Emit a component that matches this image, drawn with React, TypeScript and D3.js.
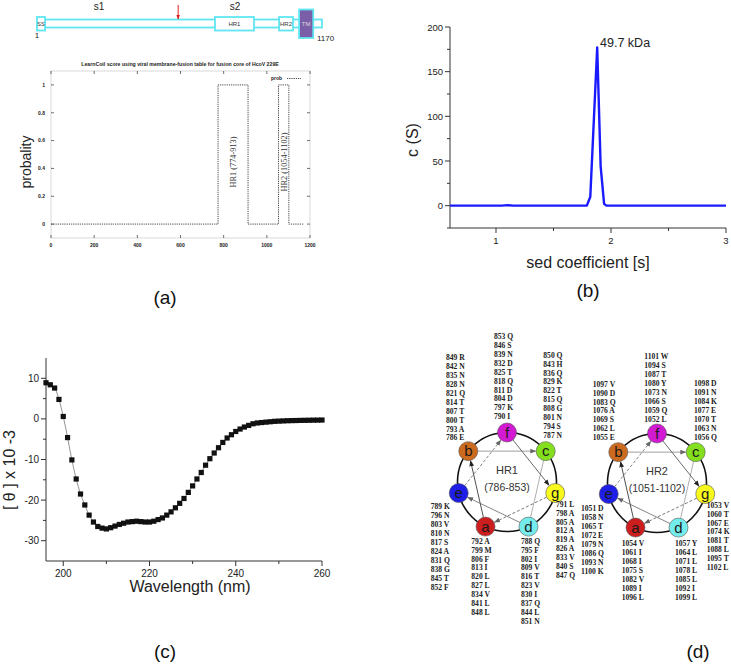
import React from 'react';
import * as d3 from 'd3';

// ---------- Panel (a): domain schematic + LearnCoil probability ----------
const proteinLength = 1170;
const domainNames = ['SS', 'HR1', 'HR2', 'TM'];
const domainStart = [1, 731, 994, 1076];
const domainEnd = [34, 891, 1051, 1134];
const cleavageSite = 580;
const subunitNames = ['s1', 's2'];
const subunitCenters = [255, 813];

const probX = [1, 774, 913, 1054, 1102, 1170];
const probY = [0, 1, 0, 1, 0, 0];
const probXTicks = [0, 200, 400, 600, 800, 1000, 1200];
const probYTicks = [0, 0.2, 0.4, 0.6, 0.8, 1];
const probYLabels = ['0', '0.2', '0.4', '0.6', '0.8', '1'];
const hrLabels = ['HR1  (774-913)', 'HR2  (1054-1102)'];
const hrLabelPos = [843, 1078];

// ---------- Panel (b): sedimentation ----------
const sedX = [0.6, 1.05, 1.1, 1.15, 1.79, 1.82, 1.88, 1.91, 1.94, 1.96, 3.0];
const sedC = [0, 0, 0.6, 0, 0, 10, 177, 44, 2, 0, 0];
const sedXTicks = [1, 2, 3];
const sedXMinor = [1.5, 2.5];
const sedYTicks = [0, 50, 100, 150, 200];
const sedYMinor = [-25, 25, 75, 125, 175];

// ---------- Panel (c): CD spectrum ----------
const cdWavelength = d3.range(196, 261);
const cdTheta = [
  8.9, 8.4, 7.6, 4.8, 0.6, -4.6, -10.1, -14.8, -18.5, -21.2,
  -23.7, -25.4, -26.5, -26.9, -27.1, -26.8, -26.4, -26.0, -25.7, -25.4,
  -25.3, -25.2, -25.3, -25.4, -25.4, -25.2, -24.8, -24.4, -23.7, -22.9,
  -21.9, -20.8, -19.6, -18.1, -16.5, -14.8, -13.2, -11.4, -9.8, -8.4,
  -7.1, -5.8, -4.7, -3.9, -3.1, -2.5, -2.0, -1.6, -1.2, -1.0,
  -0.9, -0.8, -0.7, -0.6, -0.55, -0.5, -0.45, -0.42, -0.4, -0.37,
  -0.35, -0.33, -0.31, -0.3, -0.28,
];
const cdXTicks = [200, 220, 240, 260];
const cdXMinor = [210, 230, 250];
const cdYTicks = [-30, -20, -10, 0, 10];
const cdYMinor = [-25, -15, -5, 5];

// ---------- Panel (d): helical wheels ----------
const wheelOrder = ['f', 'c', 'g', 'd', 'a', 'e', 'b'];
const heptadColors: Record<string, string> = {
  f: '#d21ad2', c: '#84e01e', g: '#f8f81a', d: '#74ecec', a: '#cc1e1e', e: '#1e1ee6', b: '#cc6a1e',
};
const arrowFrom = ['a', 'b', 'c', 'd', 'e', 'f', 'g'];
const arrowTo = ['b', 'c', 'd', 'e', 'f', 'g', 'a'];

const hr1Name = 'HR1';
const hr1Range = '(786-853)';
const hr1Cols: Record<string, string[]> = {
  b: ['849 R', '842 N', '835 N', '828 N', '821 Q', '814 T', '807 T', '800 T', '793 A', '786 E'],
  f: ['853 Q', '846 S', '839 N', '832 D', '825 T', '818 Q', '811 D', '804 D', '797 K', '790 I'],
  c: ['850 Q', '843 H', '836 Q', '829 K', '822 T', '815 Q', '808 G', '801 N', '794 S', '787 N'],
  e: ['789 K', '796 N', '803 V', '810 N', '817 S', '824 A', '831 Q', '838 G', '845 T', '852 F'],
  a: ['792 A', '799 M', '806 F', '813 I', '820 L', '827 L', '834 V', '841 L', '848 L'],
  d: ['788 Q', '795 F', '802 I', '809 V', '816 T', '823 V', '830 I', '837 Q', '844 L', '851 N'],
  g: ['791 L', '798 A', '805 A', '812 A', '819 A', '826 A', '833 V', '840 S', '847 Q'],
};
const hr2Name = 'HR2';
const hr2Range = '(1051-1102)';
const hr2Cols: Record<string, string[]> = {
  b: ['1097 V', '1090 D', '1083 Q', '1076 A', '1069 S', '1062 L', '1055 E'],
  f: ['1101 W', '1094 S', '1087 T', '1080 Y', '1073 N', '1066 S', '1059 Q', '1052 L'],
  c: ['1098 D', '1091 N', '1084 K', '1077 E', '1070 T', '1063 N', '1056 Q'],
  e: ['1051 D', '1058 N', '1065 T', '1072 E', '1079 N', '1086 Q', '1093 N', '1100 K'],
  a: ['1054 V', '1061 I', '1068 I', '1075 S', '1082 V', '1089 I', '1096 L'],
  d: ['1057 Y', '1064 L', '1071 L', '1078 L', '1085 L', '1092 I', '1099 L'],
  g: ['1053 V', '1060 T', '1067 E', '1074 K', '1081 T', '1088 L', '1095 T', '1102 L'],
};

const SANS = "'Liberation Sans', Arial, sans-serif";
const SERIF = "'Liberation Serif', 'Times New Roman', serif";

// layout for wheel text columns (left x, first line centre y)
const hr1ColPos: Record<string, [number, number]> = {
  b: [446, 357.3], f: [494, 336.2], c: [543.3, 355], e: [430.7, 506.7],
  a: [471.3, 541], d: [521, 541], g: [556, 504],
};
const hr2ColPos: Record<string, [number, number]> = {
  b: [592.7, 384], f: [644.3, 356.7], c: [694, 383.3], e: [581, 508.3],
  a: [621.7, 543.3], d: [675, 543.3], g: [706.7, 505],
};

const arrowStyle = [
  { color: '#222', dash: '', marker: 'ahDark' },
  { color: '#888', dash: '', marker: 'ahGray' },
  { color: '#999', dash: '', marker: '' },
  { color: '#666', dash: '', marker: 'ahGray' },
  { color: '#666', dash: '3,2', marker: 'ahGray' },
  { color: '#444', dash: '', marker: 'ahDark' },
  { color: '#555', dash: '3,2', marker: 'ahGray' },
];

function Wheel({ cx, cy, name, range, cols, colPos }: any) {
  const R = 49.5;
  const nodeR = 9.5;
  const angle = d3.scaleLinear().domain([0, 7]).range([-Math.PI / 2, (3 * Math.PI) / 2]);
  const pos: Record<string, [number, number]> = {};
  wheelOrder.forEach((k, i) => {
    const a = angle(i);
    pos[k] = [cx + R * Math.cos(a), cy + R * Math.sin(a)];
  });
  return (
    <g>
      <circle cx={cx} cy={cy} r={R} fill="none" stroke="#111" strokeWidth={1.6} />
      {arrowFrom.map((f, i) => {
        const [x1, y1] = pos[f];
        const [x2, y2] = pos[arrowTo[i]];
        const dx = x2 - x1, dy = y2 - y1;
        const L = Math.hypot(dx, dy);
        const ux = dx / L, uy = dy / L;
        const st = arrowStyle[i];
        return (
          <line key={i} x1={x1 + ux * nodeR} y1={y1 + uy * nodeR} x2={x2 - ux * (nodeR + 0.5)} y2={y2 - uy * (nodeR + 0.5)}
            stroke={st.color} strokeWidth={0.8} strokeDasharray={st.dash || undefined}
            markerEnd={st.marker ? `url(#${st.marker})` : undefined} />
        );
      })}
      {wheelOrder.map((k) => (
        <g key={k}>
          <circle cx={pos[k][0]} cy={pos[k][1]} r={nodeR} fill={heptadColors[k]} stroke="#555" strokeWidth={0.6} />
          <text x={pos[k][0]} y={pos[k][1] + 5} textAnchor="middle" fontSize={15} fontFamily={SANS} fill="#1a1a1a">{k}</text>
        </g>
      ))}
      <text x={cx} y={cy - 8} textAnchor="middle" fontSize={11} fontFamily={SANS} fill="#333">{name}</text>
      <text x={cx} y={cy + 9} textAnchor="middle" fontSize={10.5} fontFamily={SANS} fill="#333">{range}</text>
      {Object.keys(cols).map((k) => (
        <g key={k}>
          {cols[k].map((s: string, j: number) => (
            <text key={j} x={colPos[k][0]} y={colPos[k][1] + j * 8.95 + 2.6} fontSize={7.6} fontWeight="bold" fontFamily={SERIF} fill="#222">{s}</text>
          ))}
        </g>
      ))}
    </g>
  );
}

export default function App() {
  // ---- panel (a) scales
  const xDom = d3.scaleLinear().domain([1, proteinLength]).range([37, 322]);
  const xA = d3.scaleLinear().domain([0, 1200]).range([51, 310]);
  const yA = d3.scaleLinear().domain([-0.1, 1.1]).range([238, 71]);
  const probLine = d3.line<number>().x((_, i) => xA(probX[i])).y((d) => yA(d)).curve(d3.curveStepAfter)(probY) || '';

  // ---- panel (b) scales
  const xB = d3.scaleLinear().domain([0.6, 3]).range([450, 726]);
  const yB = d3.scaleLinear().domain([-25, 200]).range([228, 27]);
  const sedLine = d3.line<number>().x((_, i) => xB(sedX[i])).y((d) => yB(d))(sedC) || '';

  // ---- panel (c) scales
  const xC = d3.scaleLinear().domain([196, 260]).range([46, 322]);
  const yC = d3.scaleLinear().domain([-35, 15]).range([561, 358]);
  const cdLine = d3.line<number>().x((_, i) => xC(cdWavelength[i])).y((d) => yC(d)).curve(d3.curveCatmullRom)(cdTheta) || '';

  const cyan = '#5fe6f2';
  const barTop = 19.5, barBot = 27.5;

  return (
    <svg width={731} height={664} style={{ position: 'absolute', left: 0, top: 0, background: '#fff' }} fontFamily={SANS}>
      <defs>
        <marker id="ahDark" viewBox="0 0 10 10" refX="9" refY="5" markerWidth="6" markerHeight="6" orient="auto" markerUnits="userSpaceOnUse">
          <path d="M0,1 L10,5 L0,9 z" fill="#222" />
        </marker>
        <marker id="ahGray" viewBox="0 0 10 10" refX="9" refY="5" markerWidth="6" markerHeight="6" orient="auto" markerUnits="userSpaceOnUse">
          <path d="M0,1 L10,5 L0,9 z" fill="#666" />
        </marker>
        <marker id="ahRed" viewBox="0 0 10 10" refX="9" refY="5" markerWidth="5" markerHeight="5" orient="auto" markerUnits="userSpaceOnUse">
          <path d="M0,1 L10,5 L0,9 z" fill="#e02020" />
        </marker>
      </defs>
      <rect x={0} y={0} width={731} height={664} fill="#fff" />

      {/* ===== Panel (a) schematic ===== */}
      <g>
        {subunitNames.map((s, i) => (
          <text key={s} x={xDom(subunitCenters[i])} y={10} textAnchor="middle" fontSize={10} fill="#222">{s}</text>
        ))}
        <rect x={xDom(domainEnd[0])} y={barTop} width={xDom(proteinLength) - xDom(domainEnd[0])} height={barBot - barTop} fill="#fff" stroke={cyan} strokeWidth={1.8} />
        {domainNames.map((n, i) => {
          const isTM = n === 'TM';
          const top = isTM ? 9.5 : 17;
          const bot = isTM ? 38 : 30.5;
          return (
            <g key={n}>
              <rect x={xDom(domainStart[i])} y={top} width={xDom(domainEnd[i]) - xDom(domainStart[i])} height={bot - top}
                fill={isTM ? '#7b5ea8' : '#fff'} stroke={cyan} strokeWidth={1.8} />
              <text x={(xDom(domainStart[i]) + xDom(domainEnd[i])) / 2} y={26} textAnchor="middle" fontSize={n === 'SS' ? 5.5 : 6} fill={isTM ? '#ddd' : '#333'}>{n}</text>
            </g>
          );
        })}
        <line x1={xDom(cleavageSite)} y1={5} x2={xDom(cleavageSite)} y2={19} stroke="#e02020" strokeWidth={1} markerEnd="url(#ahRed)" />
        <text x={xDom(1)} y={38} textAnchor="middle" fontSize={8} fill="#222">1</text>
        <text x={xDom(proteinLength) - 5} y={41} textAnchor="start" fontSize={8} fill="#222">{proteinLength}</text>
      </g>

      {/* ===== Panel (a) LearnCoil ===== */}
      <g>
        <text x={180} y={66} textAnchor="middle" fontSize={5.2} fontWeight="bold" fill="#222">LearnCoil score using viral membrane-fusion table for fusion core of HcoV 229E</text>
        <rect x={xA(0)} y={yA(1.1)} width={xA(1200) - xA(0)} height={yA(-0.1) - yA(1.1)} fill="none" stroke="#c8c8c8" strokeWidth={0.7} />
        {probXTicks.map((t) => (
          <g key={t}>
            <line x1={xA(t)} x2={xA(t)} y1={yA(-0.1)} y2={yA(-0.1) - 3} stroke="#333" strokeWidth={0.7} />
            <line x1={xA(t)} x2={xA(t)} y1={yA(1.1)} y2={yA(1.1) + 3} stroke="#333" strokeWidth={0.7} />
            <text x={xA(t)} y={247} textAnchor="middle" fontSize={5} fontWeight="bold" fill="#222">{t}</text>
          </g>
        ))}
        {probYTicks.map((t, i) => (
          <g key={t}>
            <line x1={xA(0)} x2={xA(0) + 3} y1={yA(t)} y2={yA(t)} stroke="#333" strokeWidth={0.7} />
            <line x1={xA(1200)} x2={xA(1200) - 3} y1={yA(t)} y2={yA(t)} stroke="#333" strokeWidth={0.7} />
            <text x={45} y={yA(t) + 1.8} textAnchor="end" fontSize={5} fontWeight="bold" fill="#222">{probYLabels[i]}</text>
          </g>
        ))}
        <path d={probLine} fill="none" stroke="#333" strokeWidth={0.9} strokeDasharray="1.2,1" />
        <text x={282} y={80} textAnchor="end" fontSize={5} fontWeight="bold" fill="#222">prob</text>
        <line x1={287} x2={301} y1={78.5} y2={78.5} stroke="#333" strokeWidth={0.9} strokeDasharray="1.2,1" />
        {hrLabels.map((s, i) => (
          <text key={s} transform={`translate(${xA(hrLabelPos[i]) + 3}, 162) rotate(-90)`} textAnchor="middle" fontSize={8.3} fontFamily={SERIF} fill="#333">{s}</text>
        ))}
        <text transform="translate(31, 162) rotate(-90)" textAnchor="middle" fontSize={14} fill="#222">probality</text>
        <text x={165} y={304} textAnchor="middle" fontSize={19} fill="#111">(a)</text>
      </g>

      {/* ===== Panel (b) ===== */}
      <g>
        <line x1={xB(0.6)} x2={xB(0.6)} y1={yB(-25)} y2={yB(200)} stroke="#333" strokeWidth={1} />
        <line x1={xB(0.6)} x2={xB(3)} y1={yB(-25)} y2={yB(-25)} stroke="#333" strokeWidth={1} />
        {sedYTicks.map((t) => (
          <g key={t}>
            <line x1={xB(0.6) - 5} x2={xB(0.6)} y1={yB(t)} y2={yB(t)} stroke="#333" strokeWidth={1} />
            <text x={xB(0.6) - 7} y={yB(t) + 3.5} textAnchor="end" fontSize={9.5} fill="#222">{t}</text>
          </g>
        ))}
        {sedYMinor.map((t) => (
          <line key={t} x1={xB(0.6) - 3} x2={xB(0.6)} y1={yB(t)} y2={yB(t)} stroke="#333" strokeWidth={1} />
        ))}
        {sedXTicks.map((t) => (
          <g key={t}>
            <line x1={xB(t)} x2={xB(t)} y1={yB(-25)} y2={yB(-25) + 5} stroke="#333" strokeWidth={1} />
            <text x={xB(t)} y={yB(-25) + 16} textAnchor="middle" fontSize={9.5} fill="#222">{t}</text>
          </g>
        ))}
        {sedXMinor.map((t) => (
          <line key={t} x1={xB(t)} x2={xB(t)} y1={yB(-25)} y2={yB(-25) + 3} stroke="#333" strokeWidth={1} />
        ))}
        <path d={sedLine} fill="none" stroke="#1a1aff" strokeWidth={2.4} strokeLinejoin="round" />
        <text x={xB(1.905)} y={yB(177) - 1} fontSize={12.5} fill="#222">49.7 kDa</text>
        <text transform="translate(418, 140) rotate(-90)" textAnchor="middle" fontSize={16} fill="#222">c (S)</text>
        <text x={588} y={268} textAnchor="middle" fontSize={16} fill="#222">sed coefficient [s]</text>
        <text x={588} y={297} textAnchor="middle" fontSize={19} fill="#111">(b)</text>
      </g>

      {/* ===== Panel (c) ===== */}
      <g>
        <line x1={xC(196)} x2={xC(196)} y1={yC(-35)} y2={yC(15)} stroke="#333" strokeWidth={1} />
        <line x1={xC(196)} x2={xC(260)} y1={yC(-35)} y2={yC(-35)} stroke="#333" strokeWidth={1} />
        {cdYTicks.map((t) => (
          <g key={t}>
            <line x1={xC(196) - 5} x2={xC(196)} y1={yC(t)} y2={yC(t)} stroke="#333" strokeWidth={1} />
            <text x={xC(196) - 7} y={yC(t) + 3.5} textAnchor="end" fontSize={10} fill="#222">{t}</text>
          </g>
        ))}
        {cdYMinor.map((t) => (
          <line key={t} x1={xC(196) - 3} x2={xC(196)} y1={yC(t)} y2={yC(t)} stroke="#333" strokeWidth={1} />
        ))}
        {cdXTicks.map((t) => (
          <g key={t}>
            <line x1={xC(t)} x2={xC(t)} y1={yC(-35)} y2={yC(-35) + 5} stroke="#333" strokeWidth={1} />
            <text x={xC(t)} y={yC(-35) + 16} textAnchor="middle" fontSize={10} fill="#222">{t}</text>
          </g>
        ))}
        {cdXMinor.map((t) => (
          <line key={t} x1={xC(t)} x2={xC(t)} y1={yC(-35)} y2={yC(-35) + 3} stroke="#333" strokeWidth={1} />
        ))}
        <path d={cdLine} fill="none" stroke="#666" strokeWidth={0.7} />
        {cdTheta.map((v, i) => (
          <rect key={i} x={xC(cdWavelength[i]) - 2.6} y={yC(v) - 2.6} width={5.2} height={5.2} fill="#111" />
        ))}
        <text transform="translate(15, 470) rotate(-90)" textAnchor="middle" fontSize={16} fill="#222">[ θ ] x 10 -3</text>
        <text x={190} y={592} textAnchor="middle" fontSize={16} fill="#222">Wavelength (nm)</text>
        <text x={165} y={658} textAnchor="middle" fontSize={19} fill="#111">(c)</text>
      </g>

      {/* ===== Panel (d) ===== */}
      <Wheel cx={507} cy={482} name={hr1Name} range={hr1Range} cols={hr1Cols} colPos={hr1ColPos} />
      <Wheel cx={657} cy={483} name={hr2Name} range={hr2Range} cols={hr2Cols} colPos={hr2ColPos} />
      <text x={698} y={658} textAnchor="middle" fontSize={19} fill="#111">(d)</text>
    </svg>
  );
}
